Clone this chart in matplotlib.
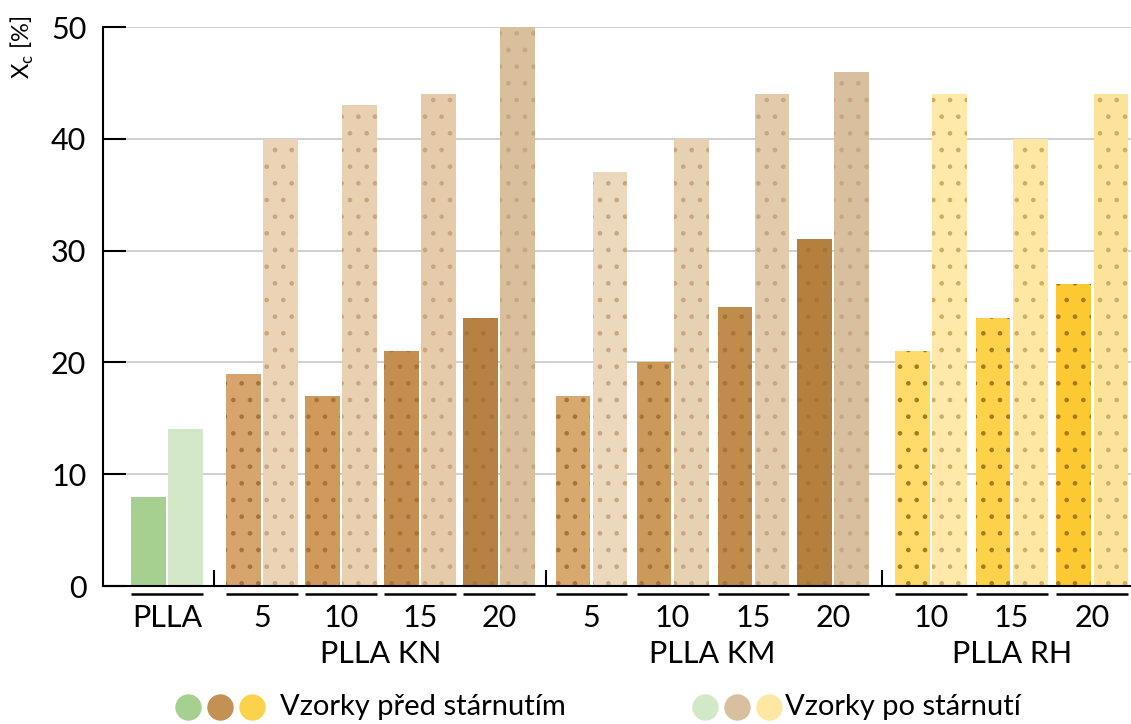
import matplotlib
matplotlib.use("Agg")
import matplotlib.pyplot as plt
from matplotlib.lines import Line2D
from matplotlib.transforms import blended_transform_factory

plt.rcParams['font.family'] = ['Lato', 'DejaVu Sans']
plt.rcParams['hatch.linewidth'] = 0.9

# data
pair_labels = ['PLLA', '5', '10', '15', '20', '5', '10', '15', '20', '10', '15', '20']
group_labels = ['PLLA KN', 'PLLA KM', 'PLLA RH']
before = [8, 19, 17, 21, 24, 17, 20, 25, 31, 21, 24, 27]
after = [14, 40, 43, 44, 50, 37, 40, 44, 46, 44, 40, 44]

col_before = ['#a6d08f', '#d5a56d', '#cf9a5c', '#c48e50', '#b58242',
              '#d7a96f', '#cc9a58', '#c08c4c', '#b3803e',
              '#fedb6b', '#fdd24b', '#fcc933']
col_after = ['#d3e8c6', '#ebd4b5', '#e8d0b0', '#e5cba9', '#d9bf9c',
             '#ecd8bd', '#e6d1b3', '#e2cbab', '#d8bf9e',
             '#fee9ab', '#fee7a3', '#fde39a']
dot_before = ['#a6d08f'] + ['#a8723a'] * 8 + ['#a87a20'] * 3
dot_after = ['#d3e8c6'] + ['#c9a680'] * 8 + ['#cfae64'] * 3

# layout (pair centres in units of pair pitch)
xpos = [0, 1.198, 2.194, 3.19, 4.186, 5.353, 6.375, 7.396, 8.398, 9.634, 10.65, 11.67]
group_idx = [[1, 2, 3, 4], [5, 6, 7, 8], [9, 10, 11]]
separators = [0.593, 4.779, 9.016]
off = 0.236
w = 0.435

fig = plt.figure(figsize=(11.31, 7.24), dpi=100)
ax = fig.add_axes([0.0911, 0.1906, 0.9089, 0.7721])

for i in range(len(xpos)):
    ax.bar(xpos[i] - off, before[i], w, color=col_before[i], edgecolor=dot_before[i],
           linewidth=0, hatch='.', zorder=2)
    ax.bar(xpos[i] + off, after[i], w, color=col_after[i], edgecolor=dot_after[i],
           linewidth=0, hatch='.', zorder=2)

ax.set_xlim(-0.807, 12.156)
ax.set_ylim(0, 50)
ax.set_yticks([0, 10, 20, 30, 40, 50])
ax.tick_params(axis='y', direction='in', length=16.5, width=1.5, pad=12, labelsize=22)
ax.tick_params(axis='x', bottom=False, labelbottom=False)
ax.grid(axis='y', color='#c4c4c4', linewidth=1.1, zorder=0)
ax.set_axisbelow(True)
for s in ['top', 'right']:
    ax.spines[s].set_visible(False)
ax.spines['left'].set_linewidth(1.5)
ax.spines['bottom'].set_linewidth(1.5)

trans = blended_transform_factory(ax.transData, ax.transAxes)
# group separators
for sx in separators:
    ax.plot([sx, sx], [0, 0.026], color='black', lw=1.5, transform=trans, clip_on=False)
# underlines and labels
for i in range(len(xpos)):
    ax.plot([xpos[i] - off - w / 2, xpos[i] + off + w / 2], [-0.0135, -0.0135],
            color='black', lw=1.8, transform=trans, clip_on=False, solid_capstyle='butt')
    ax.text(xpos[i], -0.058, pair_labels[i], transform=trans, ha='center', va='center',
            fontsize=22)
for g, idx in enumerate(group_idx):
    gx = (xpos[idx[0]] + xpos[idx[-1]]) / 2
    ax.text(gx, -0.121, group_labels[g], transform=trans, ha='center', va='center',
            fontsize=22)

fig.text(0.02, 0.935, r'X$_\mathregular{c}$ [%]', rotation=90, ha='center', va='center',
         fontsize=17)

# legend
ly = 1 - 707 / 724
for k, c in enumerate([col_before[0], '#c49155', '#fdd24b']):
    fig.add_artist(Line2D([(188 + 32 * k) / 1131], [ly], marker='o', markersize=18,
                          color=c, linestyle='none', transform=fig.transFigure))
fig.text(280 / 1131, ly, 'Vzorky před stárnutím', ha='left', va='center', fontsize=21)
for k, c in enumerate([col_after[0], '#d8bf9e', '#fee7a3']):
    fig.add_artist(Line2D([(705 + 32 * k) / 1131], [ly], marker='o', markersize=18,
                          color=c, linestyle='none', transform=fig.transFigure))
fig.text(785 / 1131, ly, 'Vzorky po stárnutí', ha='left', va='center', fontsize=21)

fig.savefig('out.png', dpi=100)
